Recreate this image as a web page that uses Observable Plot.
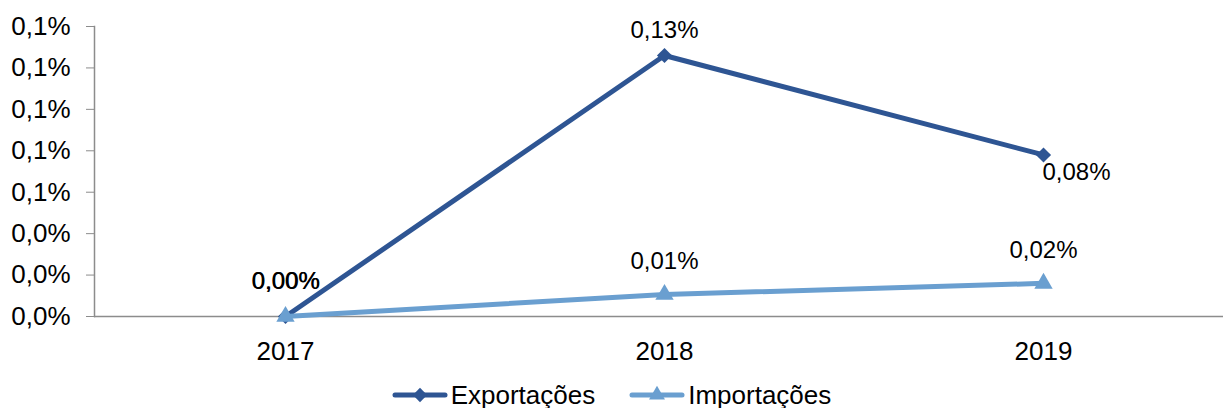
<!DOCTYPE html>
<html><head><meta charset="utf-8">
<script src="https://cdn.jsdelivr.net/npm/d3@7"></script>
<script src="https://cdn.jsdelivr.net/npm/@observablehq/plot@0.6"></script>
<style>
body{margin:0;background:#fff;overflow:hidden;font-family:"Liberation Sans",Arial,sans-serif;}
#legend{display:flex;justify-content:center;align-items:center;gap:34px;font-size:26px;line-height:38px;margin-top:4px;color:#000;}
#legend .item{display:flex;align-items:center;gap:3px;}
</style></head><body>
<div id="chart"></div>
<div id="legend"></div>
<script>
const years = ["2017", "2018", "2019"];
const exportacoes = [0, 0.126, 0.078];
const importacoes = [0, 0.0106, 0.016];
const yTicks = [0, 0.02, 0.04, 0.06, 0.08, 0.10, 0.12, 0.14];
const seriesNames = ["Exportações", "Importações"];
const colors = ["#2E5593", "#6A9FD0"];

const exp = years.map((year, i) => ({year, series: seriesNames[0], value: exportacoes[i]}));
const imp = years.map((year, i) => ({year, series: seriesNames[1], value: importacoes[i]}));
const fmtTick = d => d.toFixed(1).replace(".", ",") + "%";
const fmtLabel = d => d.value.toFixed(2).replace(".", ",") + "%";
const axisGray = "#8c8c8c";
const font = "Liberation Sans, Arial, sans-serif";

const chart = Plot.plot({
  width: 1223, height: 372,
  marginLeft: 94, marginRight: -10, marginTop: 26, marginBottom: 56,
  style: {fontFamily: font, fontSize: "26px", background: "#fff", color: "#000", overflow: "visible"},
  x: {type: "point", domain: years, padding: 0.5, axis: null, label: null},
  y: {domain: [0, 0.14], axis: null, label: null},
  marks: [
    Plot.axisY({ticks: yTicks, tickFormat: fmtTick, tickSize: 8, tickPadding: 16, stroke: axisGray, fontSize: 26, label: null}),
    Plot.axisX({tickSize: 0, tickPadding: 25, fontSize: 26, label: null}),
    Plot.ruleY([0], {stroke: axisGray, strokeWidth: 1.5}),
    Plot.frame({anchor: "left", stroke: axisGray, strokeWidth: 1.5}),
    Plot.line(exp, {x: "year", y: "value", stroke: colors[0], strokeWidth: 5}),
    Plot.dot(exp, {x: "year", y: "value", symbol: "diamond2", r: 6.8, fill: colors[0], stroke: "none"}),
    Plot.line(imp, {x: "year", y: "value", stroke: colors[1], strokeWidth: 5}),
    Plot.dot(imp, {x: "year", y: "value", symbol: "triangle", r: 6.8, fill: colors[1], stroke: "none"}),
    Plot.text(exp, {filter: d => d.year === years[0], x: "year", y: "value", text: fmtLabel, dy: -35, fontSize: 24, fill: "#000"}),
    Plot.text(imp, {filter: d => d.year === years[0], x: "year", y: "value", text: fmtLabel, dy: -35, dx: 0.6, fontSize: 24, fill: "#000"}),
    Plot.text(exp, {filter: d => d.year === years[1], x: "year", y: "value", text: fmtLabel, dy: -25, fontSize: 24, fill: "#000"}),
    Plot.text(exp, {filter: d => d.year === years[2], x: "year", y: "value", text: fmtLabel, dx: 33, dy: 17, fontSize: 24, fill: "#000"}),
    Plot.text(imp, {filter: d => d.year !== years[0], x: "year", y: "value", text: fmtLabel, dy: -33, fontSize: 24, fill: "#000"})
  ]
});
document.getElementById("chart").appendChild(chart);

// Legend
const legend = d3.select("#legend");
const symbols = [d3.symbolDiamond2, d3.symbolTriangle];
seriesNames.forEach((name, i) => {
  const item = legend.append("div").attr("class", "item");
  const sw = item.append("svg").attr("width", 56).attr("height", 20);
  sw.append("line").attr("x1", 3).attr("x2", 53).attr("y1", 10).attr("y2", 10)
    .attr("stroke", colors[i]).attr("stroke-width", 5).attr("stroke-linecap", "round");
  sw.append("path").attr("transform", "translate(28,10)")
    .attr("d", d3.symbol(symbols[i], i === 0 ? 130 : 110)()).attr("fill", colors[i]);
  item.append("span").text(name);
});
</script>
</body></html>
